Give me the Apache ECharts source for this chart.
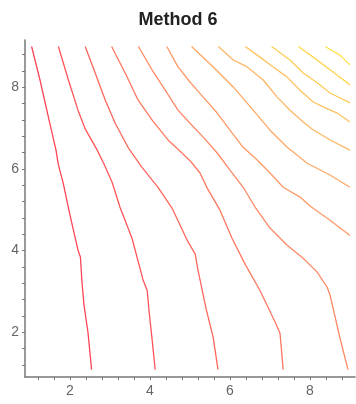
<!DOCTYPE html>
<html>
<head>
<meta charset="utf-8">
<script src="https://cdn.jsdelivr.net/npm/echarts@6/dist/echarts.min.js"></script>
<style>
html,body{margin:0;padding:0;background:#fff;}
#chart{width:356px;height:404px;filter:blur(0.35px);}
</style>
</head>
<body>
<div id="chart"></div>
<script>
// Contour lines (x, y)
var contour1 = [[1.04,9.0],[1.25,8.18],[1.46,7.27],[1.65,6.46],[1.71,6.10],[1.83,5.65],[2.0,4.87],[2.2,4.01],[2.26,3.84],[2.3,3.22],[2.35,2.66],[2.45,1.99],[2.54,1.08]];
var contour2 = [[1.71,9.0],[1.96,8.18],[2.2,7.44],[2.38,6.98],[2.68,6.46],[2.85,6.12],[3.05,5.68],[3.25,5.06],[3.55,4.30],[3.83,3.27],[3.93,3.02],[3.98,2.48],[4.05,1.84],[4.13,1.08]];
var contour3 = [[2.38,9.0],[2.63,8.35],[2.88,7.69],[3.13,7.12],[3.45,6.53],[3.8,6.04],[4.2,5.55],[4.55,5.04],[4.93,4.25],[5.13,3.91],[5.2,3.52],[5.4,2.58],[5.58,1.87],[5.7,1.08]];
var contour4 = [[3.04,9.0],[3.38,8.35],[3.7,7.69],[4.05,7.2],[4.45,6.71],[4.8,6.39],[5.03,6.17],[5.25,5.9],[5.43,5.53],[5.75,4.99],[6.05,4.30],[6.38,3.66],[6.75,3.02],[7.13,2.24],[7.25,1.97],[7.33,1.08]];
var contour5 = [[3.71,9.0],[4.05,8.43],[4.38,7.93],[4.7,7.44],[5.0,7.12],[5.33,6.78],[5.68,6.39],[6.0,5.97],[6.33,5.55],[6.63,5.06],[7.0,4.55],[7.43,4.13],[7.83,3.81],[8.18,3.47],[8.43,3.10],[8.5,2.91],[8.6,2.49],[8.75,1.85],[8.95,1.08]];
var contour6 = [[4.42,9.0],[4.7,8.5],[5.0,8.13],[5.33,7.76],[5.68,7.37],[6.0,6.95],[6.33,6.53],[6.68,6.22],[7.0,5.9],[7.33,5.55],[7.75,5.31],[8.0,5.09],[8.5,4.74],[9.0,4.37]];
var contour7 = [[5.04,9.0],[5.58,8.5],[6.08,8.01],[6.58,7.44],[7.0,6.95],[7.43,6.53],[7.93,6.14],[8.5,5.85],[9.0,5.55]];
var contour8 = [[5.71,9.0],[6.08,8.67],[6.43,8.5],[6.83,8.18],[7.18,7.76],[7.5,7.44],[7.83,7.15],[8.05,6.98],[8.5,6.71],[9.0,6.46]];
var contour9 = [[6.38,9.0],[6.75,8.74],[7.08,8.5],[7.43,8.25],[7.75,7.93],[8.08,7.64],[8.33,7.52],[8.68,7.37],[9.0,7.15]];
var contour10 = [[7.04,9.0],[7.5,8.67],[7.83,8.35],[8.18,8.11],[8.5,7.86],[9.0,7.62]];
var contour11 = [[7.71,9.0],[8.08,8.74],[8.5,8.43],[9.0,8.06]];
var contour12 = [[8.38,9.0],[8.75,8.79],[9.0,8.55]];

var xTickLabels = [2, 4, 6, 8];
var yTickLabels = [2, 4, 6, 8];
var xMinorTicks = [1.2,1.6,2.0,2.4,2.8,3.2,3.6,4.0,4.4,4.8,5.2,5.6,6.0,6.4,6.8,7.2,7.6,8.0,8.4,8.8];
var yMinorTicks = [1.2,1.6,2.0,2.4,2.8,3.2,3.6,4.0,4.4,4.8,5.2,5.6,6.0,6.4,6.8,7.2,7.6,8.0,8.4,8.8];

var contours = [contour1,contour2,contour3,contour4,contour5,contour6,contour7,contour8,contour9,contour10,contour11,contour12];
var palette = ['#ff4455','#ff5558','#ff665c','#ff7760','#ff8864','#ff9966','#ffa866','#ffb664','#ffc260','#ffcc58','#ffd650','#ffe048'];

var chart = echarts.init(document.getElementById('chart'), null, {renderer:'canvas'});
var series = contours.map(function(c, i){
  return {
    type:'line', data:c, showSymbol:false, symbol:'none', smooth:false,
    lineStyle:{color:palette[i], width:1.3},
    silent:true, animation:false
  };
});
chart.setOption({
  animation:false,
  title:{text:'Method 6', left:'center', top:6,
    textStyle:{fontFamily:'Liberation Sans, Arial, sans-serif', fontSize:18, fontWeight:'bold', color:'#222'}},
  grid:{left:25, top:40, right:1, bottom:27, containLabel:false},
  xAxis:{type:'value', min:0.875, max:9.125,
    axisLine:{lineStyle:{color:'#777', width:1.5}},
    axisTick:{show:true, customValues:xMinorTicks, length:3, lineStyle:{color:'#777'}},
    axisLabel:{customValues:xTickLabels, color:'#666', fontSize:14, margin:7, fontFamily:'Liberation Sans, Arial, sans-serif'},
    splitLine:{show:false}},
  yAxis:{type:'value', min:0.9, max:9.16,
    axisLine:{show:true, lineStyle:{color:'#777', width:1.5}},
    axisTick:{show:true, customValues:yMinorTicks, length:3, lineStyle:{color:'#777'}},
    axisLabel:{customValues:yTickLabels, color:'#666', fontSize:14, margin:6, fontFamily:'Liberation Sans, Arial, sans-serif'},
    splitLine:{show:false}},
  series:series
});
</script>
</body>
</html>
